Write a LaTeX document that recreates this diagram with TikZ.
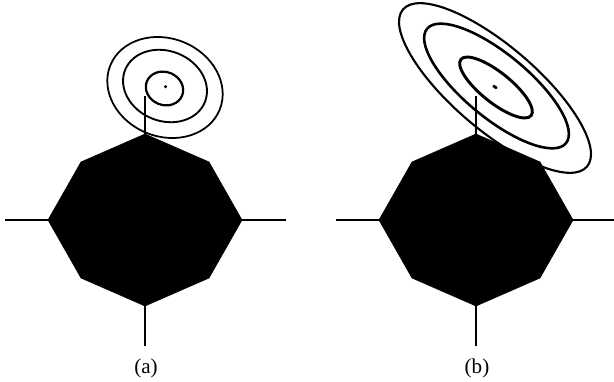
\documentclass[tikz,border=0pt]{standalone}
\usepackage{fontspec}
\setmainfont{Liberation Serif}
\usepackage{tikz}
\usetikzlibrary{calc}

\tikzset{
  axisline/.style={black, line width=1.5pt},
  octa/.style={fill=black, draw=black, line width=0.5pt},
  contour/.style={black, line width=1.6pt},
  caption/.style={font=\fontsize{18}{20}\selectfont}
}

\begin{document}
\begin{tikzpicture}[x=0.3mm, y=0.3mm]
        \useasboundingbox (0,0) rectangle (614,381);
        \coordinate (A) at (145,161);
        \coordinate (B) at (476,161);
        \foreach \c in {A,B}{
            \draw[axisline] ($(\c)+(-140,0)$) -- ($(\c)+(141,0)$);
            \draw[axisline] ($(\c)+(0,123.5)$) -- ($(\c)+(0,-125.5)$);
            \fill[octa] ($(\c)+(0,86)$) -- ($(\c)+(64,58)$) -- ($(\c)+(97,0)$)
                -- ($(\c)+(64,-58)$) -- ($(\c)+(0,-86)$) -- ($(\c)+(-64,-58)$)
                -- ($(\c)+(-97,0)$) -- ($(\c)+(-64,58)$) -- cycle;
        }
        \draw[contour, line width=1.5pt] (165,293.5) ellipse[x radius=59, y radius=49, rotate=-22];
        \draw[contour, line width=1.6pt] (165,295) ellipse[x radius=43, y radius=35, rotate=-22];
        \draw[contour, line width=1.9pt] (164.5,292.5) ellipse[x radius=19, y radius=16.5, rotate=-22];
        \fill (165.5,294.3) circle (1.7);
        \draw[contour, line width=1.8pt] (495,293) ellipse[x radius=121, y radius=42, rotate=-40.5];
        \draw[contour, line width=2.2pt] (496.5,295) ellipse[x radius=90, y radius=32, rotate=-39.5];
        \draw[contour, line width=2.5pt] (496,293.5) ellipse[x radius=45, y radius=15, rotate=-38.7];
        \fill (495,294) ellipse[x radius=2.8, y radius=1.6, rotate=-30];
        \node[caption] (capA) at (146,13) {(a)};
        \node[caption] (capB) at (477,13) {(b)};
    \end{tikzpicture}
\end{document}
